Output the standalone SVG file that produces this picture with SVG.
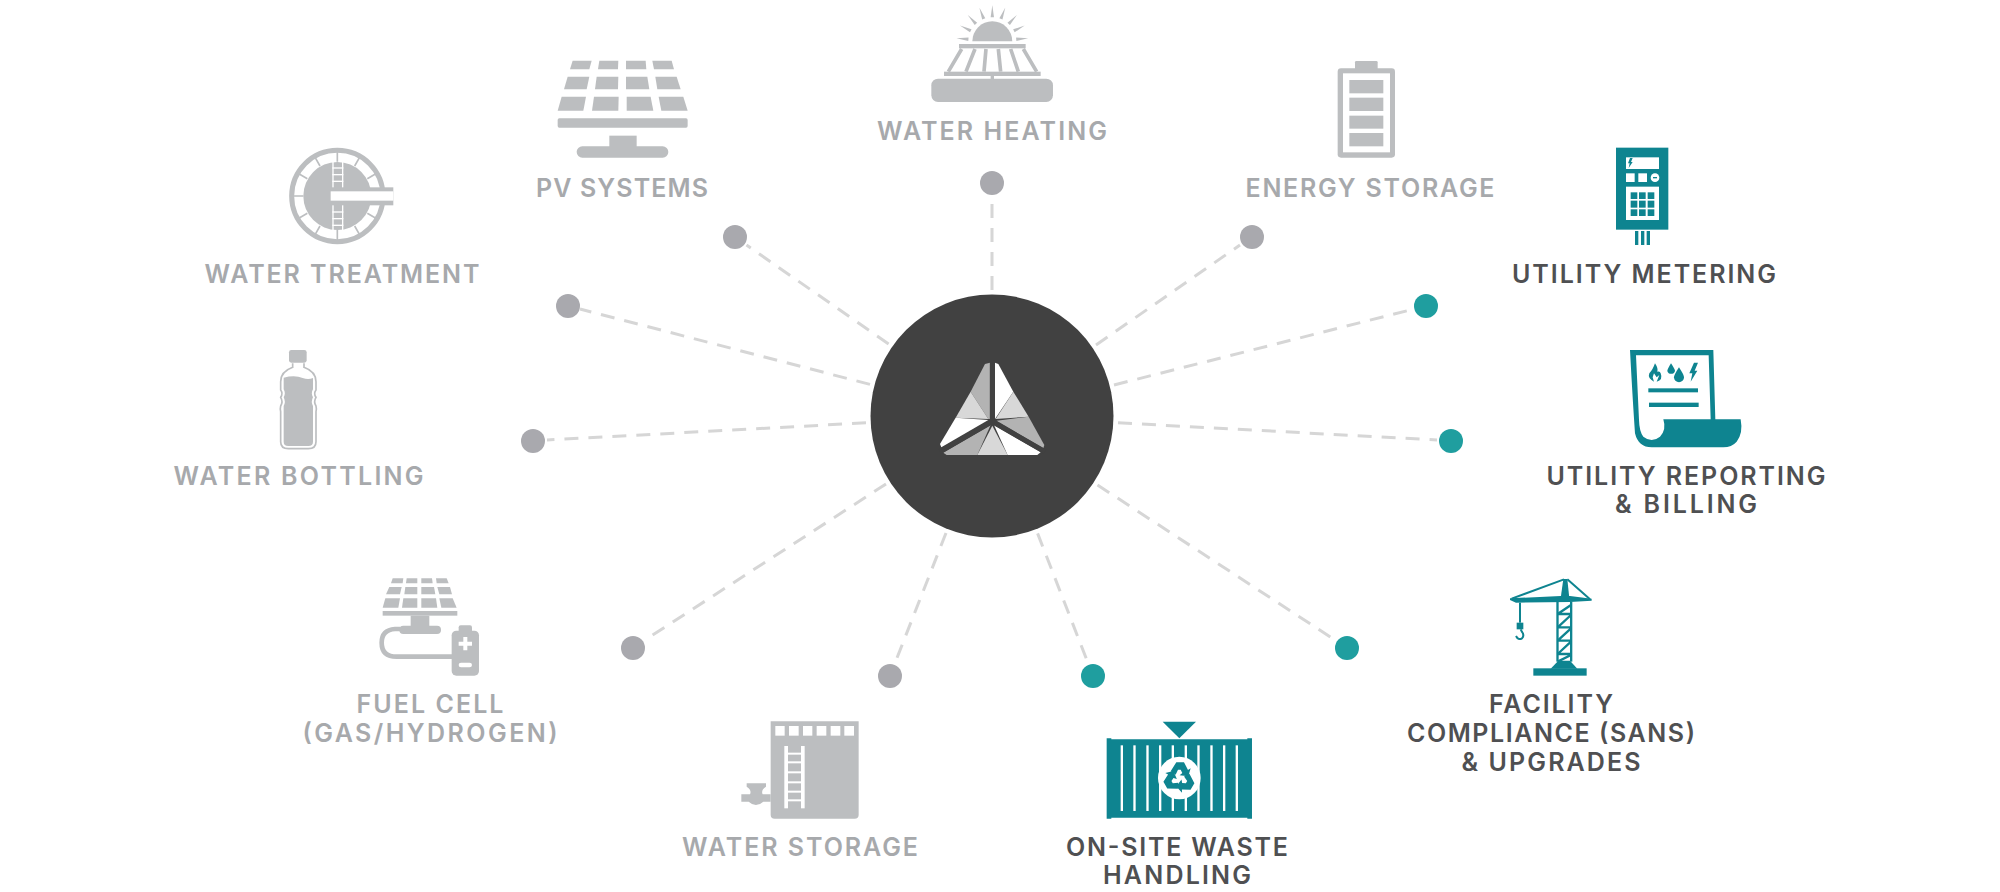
<svg xmlns="http://www.w3.org/2000/svg" width="2000" height="892" viewBox="0 0 2000 892">
<style>
.lb{font-family:"Inter","Liberation Sans",sans-serif;font-weight:600;font-size:25px;text-anchor:middle}
.g{fill:#a7a9ac}.d{fill:#4f5052}
.ig{fill:#bcbec0}.it{fill:#0e8490}
.w{fill:#fff}
.dg{fill:#a9a9ae}.dt{fill:#1f9e9f}
#connectors line{stroke:#d6d6d6;stroke-width:3;stroke-dasharray:14 10;fill:none}
</style>
<defs>
<g id="recarrow"><polygon points="-26,-20 -9,-47 14,-47 26,-24 34,-29 27,-5 1,-8 9,-15 4,-25 -4,-25 -11,-10"/></g>
<polygon id="ray" points="-5,-72 5,-72 0,-108"/>
</defs>
<g id="connectors">
<line x1="992" y1="290" x2="992" y2="197"/>
<line x1="888.600" y1="344" x2="746.500" y2="245"/>
<line x1="870" y1="384.400" x2="580" y2="309"/>
<line x1="866" y1="422.800" x2="547" y2="440"/>
<line x1="886" y1="484" x2="645" y2="640"/>
<line x1="946" y1="533" x2="895" y2="663"/>
<line x1="1037.600" y1="533.400" x2="1088" y2="663"/>
<line x1="1097.500" y1="485" x2="1335" y2="640"/>
<line x1="1118" y1="422.800" x2="1437" y2="440"/>
<line x1="1114" y1="385" x2="1412" y2="309.500"/>
<line x1="1096" y1="345" x2="1240" y2="245"/>
</g>
<g id="hub">
<circle cx="992" cy="416" r="121.500" fill="#414141"/>
<g transform="translate(800,270) scale(.3333)">
<polygon points="570,278 555,282 512,365 565,447 570,447" fill="#b3b3b3"/>
<polygon points="512,365 467,443 565,447" fill="#d8d8d8"/>
<polygon points="467,443 565,450 424,532 420,522" fill="#fff"/>
<polygon points="585,278 595,282 640,365 585,447" fill="#fff"/>
<polygon points="640,365 686,440 587,447" fill="#d8d8d8"/>
<polygon points="686,440 733,525 730,535 590,452" fill="#b3b3b3"/>
<polygon points="430,548 572,465 532,555 440,555" fill="#b3b3b3"/>
<polygon points="577,467 623,555 532,555" fill="#d8d8d8"/>
<polygon points="582,465 722,547 712,555 623,555" fill="#fff"/>
<path d="M577,270V455M577,455L420,545M577,455L735,545" fill="none" stroke="#414141" stroke-width="15"/>
</g>
</g>
<g id="water-heating">
<g class="ig" transform="translate(880,0) scale(.3333)">
<path d="M277,124A60,60 0 0 1 397,124Z"/>
<g transform="translate(337,124)"><use href="#ray" transform="rotate(-85)"/><use href="#ray" transform="rotate(-64)"/><use href="#ray" transform="rotate(-43)"/><use href="#ray" transform="rotate(-21)"/><use href="#ray"/><use href="#ray" transform="rotate(21)"/><use href="#ray" transform="rotate(43)"/><use href="#ray" transform="rotate(64)"/><use href="#ray" transform="rotate(85)"/></g>
<rect x="237" y="132" width="200" height="13"/>
<g stroke="#bcbec0" stroke-width="11" fill="none"><path d="M245,147L205,215M285,147L258,215M318,147L312,215M355,147L362,215M392,147L415,215M430,147L470,215"/></g>
<rect x="192" y="215" width="290" height="13"/>
<rect x="332" y="228" width="10" height="10"/>
<rect x="154" y="236" width="365" height="70" rx="20"/>
</g>
<circle class="dg" cx="992" cy="183" r="12"/>
<text class="lb g" x="992" y="140" textLength="230">WATER HEATING</text>
</g>
<g id="pv-systems">
<g class="ig" transform="translate(530,40) scale(.3333)">
<polygon points="128,62 185,62 178,88 120,88"/><polygon points="208,62 265,62 264,88 204,88"/><polygon points="288,62 347,62 349,88 288,88"/><polygon points="367,62 425,62 432,88 372,88"/>
<polygon points="113,110 178,110 170,148 102,148"/><polygon points="200,110 265,110 264,148 195,148"/><polygon points="288,110 352,110 358,148 288,148"/><polygon points="376,110 440,110 452,148 382,148"/>
<polygon points="95,170 168,170 160,212 83,212"/><polygon points="192,170 266,170 265,212 186,212"/><polygon points="290,170 362,170 370,212 290,212"/><polygon points="386,170 460,170 473,212 394,212"/>
<rect x="83" y="235" width="390" height="28" rx="5"/>
<rect x="238" y="287" width="82" height="35"/>
<rect x="140" y="319" width="275" height="34" rx="17"/>
</g>
<circle class="dg" cx="735" cy="237" r="12"/>
<text class="lb g" x="622" y="197" textLength="172">PV SYSTEMS</text>
</g>
<g id="water-treatment">
<g transform="translate(270,130) scale(.3333)">
<circle cx="202" cy="198" r="137" fill="#fff" stroke="#bcbec0" stroke-width="15"/>
<g stroke="#bcbec0" stroke-width="5"><path d="M202,62V95M134,80L150,108M84,130L112,146M66,198H100M84,266L112,250M134,316L150,288M202,334V300M270,316L254,288M320,266L292,250M270,80L254,108M320,130L292,146"/></g>
<circle class="ig" cx="202" cy="198" r="102"/>
<rect class="ig" x="186" y="172" width="184" height="54"/>
<rect x="182" y="184" width="188" height="28" fill="#fff"/>
<g fill="#fff"><rect x="187" y="96" width="4" height="76"/><rect x="216" y="96" width="4" height="76"/><rect x="187" y="226" width="4" height="76"/><rect x="216" y="226" width="4" height="76"/>
<rect x="187" y="112" width="33" height="4"/><rect x="187" y="132" width="33" height="4"/><rect x="187" y="152" width="33" height="4"/><rect x="187" y="244" width="33" height="4"/><rect x="187" y="264" width="33" height="4"/><rect x="187" y="284" width="33" height="4"/></g>
</g>
<circle class="dg" cx="568" cy="306" r="12"/>
<text class="lb g" x="342" y="283" textLength="275">WATER TREATMENT</text>
</g>
<g id="water-bottling">
<g transform="translate(260,340) scale(.3333)">
<rect class="ig" x="87" y="30" width="53" height="38" rx="7"/>
<path d="M98,70V82Q62,95 62,125V150Q70,160 62,172Q70,185 62,198Q60,205 62,215V305Q62,326 85,326H145Q168,326 168,305V215Q170,205 168,198Q160,185 168,172Q160,160 168,150V125Q168,95 132,82V70" fill="none" stroke="#bcbec0" stroke-width="5"/>
<path class="ig" d="M71,113Q105,104 128,114Q145,120 159,114V148Q152,160 159,172Q152,185 159,198V305Q159,318 145,318H85Q71,318 71,305V198Q78,185 71,172Q78,160 71,148Z"/>
</g>
<circle class="dg" cx="533" cy="441" r="12"/>
<text class="lb g" x="298.500" y="485" textLength="250">WATER BOTTLING</text>
</g>
<g id="fuel-cell">
<g class="ig" transform="translate(360,560) scale(.3333)">
<polygon points="98,55 130,55 128,70 93,70"/><polygon points="140,55 172,55 172,70 138,70"/><polygon points="184,55 216,55 218,70 184,70"/><polygon points="228,55 260,55 266,70 230,70"/>
<polygon points="88,81 125,81 120,103 78,103"/><polygon points="136,81 172,81 172,103 133,103"/><polygon points="184,81 222,81 226,103 184,103"/><polygon points="232,81 270,81 276,103 238,103"/>
<polygon points="76,115 120,115 115,143 68,143"/><polygon points="130,115 172,115 172,143 126,143"/><polygon points="184,115 228,115 232,143 184,143"/><polygon points="238,115 278,115 290,143 244,143"/>
<rect x="68" y="153" width="224" height="14"/>
<rect x="152" y="167" width="56" height="34"/>
<rect x="118" y="197" width="125" height="25" rx="12"/>
<path d="M120,207H105Q65,210 65,248Q65,290 110,290H278" fill="none" stroke="#bcbec0" stroke-width="14"/>
<rect x="296" y="196" width="40" height="22" rx="6"/>
<rect x="275" y="212" width="82" height="135" rx="14"/>
<path class="w" d="M310,231H322V245H336V257H322V271H310V257H296V245H310Z"/>
<rect class="w" x="296" y="308" width="40" height="14" rx="7"/>
</g>
<circle class="dg" cx="633" cy="648" r="12"/>
<text class="lb g" x="430" y="713" textLength="147">FUEL CELL</text>
<text class="lb g" x="430" y="742" textLength="255">(GAS/HYDROGEN)</text>
</g>
<g id="water-storage">
<g transform="translate(720,700) scale(.3333)">
<path class="ig" d="M152,64H416V344Q416,356 404,356H164Q152,356 152,344Z"/>
<g class="w"><rect x="166" y="78" width="28" height="29"/><rect x="207" y="78" width="29" height="29"/><rect x="249" y="78" width="28" height="29"/><rect x="290" y="78" width="29" height="29"/><rect x="332" y="78" width="29" height="29"/><rect x="373" y="78" width="29" height="29"/>
<rect x="193" y="138" width="11" height="187"/><rect x="243" y="138" width="11" height="187"/>
<rect x="204" y="158" width="39" height="6"/><rect x="204" y="184" width="39" height="6"/><rect x="204" y="214" width="39" height="6"/><rect x="204" y="244" width="39" height="6"/><rect x="204" y="272" width="39" height="6"/><rect x="204" y="298" width="39" height="6"/></g>
<path class="ig" d="M152,283H128Q122,270 138,260V250H80V260Q96,270 90,283H64V305H86Q108,325 130,305H152Z"/>
</g>
<circle class="dg" cx="890" cy="676" r="12"/>
<text class="lb g" x="800" y="856" textLength="236">WATER STORAGE</text>
</g>
<g id="waste-handling">
<g transform="translate(1090,710) scale(.3333)">
<polygon class="it" points="218,35 318,35 268,85"/>
<path class="it" d="M50,85H64V88H472V85H486V326H472V323H64V326H50Z"/>
<g class="w"><rect x="92" y="106" width="7" height="197"/><rect x="130" y="106" width="7" height="197"/><rect x="169" y="106" width="7" height="197"/><rect x="207" y="106" width="7" height="197"/><rect x="245" y="106" width="7" height="197"/><rect x="284" y="106" width="7" height="197"/><rect x="322" y="106" width="7" height="197"/><rect x="361" y="106" width="7" height="197"/><rect x="399" y="106" width="7" height="197"/><rect x="437" y="106" width="7" height="197"/>
<circle cx="268" cy="204" r="64"/></g>
<g class="it" transform="translate(268,204)"><use href="#recarrow"/><use href="#recarrow" transform="rotate(120)"/><use href="#recarrow" transform="rotate(240)"/></g>
</g>
<circle class="dt" cx="1093" cy="676" r="12"/>
<text class="lb d" x="1177" y="856" textLength="222">ON-SITE WASTE</text>
<text class="lb d" x="1177" y="884" textLength="148">HANDLING</text>
</g>
<g id="facility">
<g transform="translate(1490,570) scale(.3333)">
<g class="it">
<rect x="130" y="295" width="160" height="22"/>
<polygon points="205,272 240,272 262,296 182,296"/>
<polygon points="60,85 212,78 240,78 305,86 305,92 240,96 78,98 60,90"/>
<polygon points="220,27 232,27 238,85 212,85"/>
<rect x="199" y="95" width="7" height="180"/><rect x="240" y="95" width="7" height="180"/>
<rect x="80" y="158" width="20" height="20"/>
<rect x="87" y="98" width="6" height="60"/>
</g>
<path d="M222,28L65,86M232,28L300,88M92,178L96,186Q104,196 96,205Q85,212 78,198" fill="none" stroke="#0e8490" stroke-width="6"/>
<path d="M203,132H243M203,172H243M203,212H243M203,252H243M203,132L243,105M203,172L243,135M203,212L243,175M203,252L243,215M203,275L243,255" fill="none" stroke="#0e8490" stroke-width="7"/>
</g>
<circle class="dt" cx="1347" cy="648" r="12"/>
<text class="lb d" x="1551" y="713" textLength="124">FACILITY</text>
<text class="lb d" x="1551" y="742" textLength="288">COMPLIANCE (SANS)</text>
<text class="lb d" x="1551" y="771" textLength="179">&amp; UPGRADES</text>
</g>
<g id="utility-reporting">
<g transform="translate(1610,340) scale(.3333)">
<path class="it" d="M60,30H310L316,238H392Q400,280 380,305Q365,322 340,322H125Q85,322 75,280Q68,180 60,30Z"/>
<path class="w" d="M78,46H296L302,238H160Q170,270 150,290Q125,310 100,290Q88,275 87,240Z"/>
<g class="it">
<path d="M135,70Q145,85 142,95Q150,92 152,100Q160,120 140,125L148,105L140,112L132,100L128,112L132,125Q112,115 118,100Q128,90 135,70Z"/>
<path d="M183,70Q195,88 195,93A12,12 0 0 1 172,93Q172,88 183,70Z"/>
<path d="M207,82Q222,105 222,112A15,15 0 0 1 192,112Q192,105 207,82Z"/>
<path d="M252,68H264L254,92H262L242,125L247,100H238Z"/>
<rect x="115" y="145" width="149" height="12"/>
<rect x="117" y="188" width="149" height="13"/>
</g>
</g>
<circle class="dt" cx="1451" cy="441" r="12"/>
<text class="lb d" x="1686" y="485" textLength="279">UTILITY REPORTING</text>
<text class="lb d" x="1686" y="513" textLength="142">&amp; BILLING</text>
</g>
<g id="utility-metering">
<g transform="translate(1600,140) scale(.3333)">
<rect class="it" x="48" y="23" width="157" height="246"/>
<g class="w"><rect x="78" y="52" width="99" height="35"/><rect x="78" y="100" width="26" height="26"/><rect x="115" y="100" width="26" height="26"/><circle cx="165" cy="113" r="13"/><rect x="78" y="140" width="99" height="100"/></g>
<g class="it"><path d="M90,54H98L93,66H98L86,84L89,70H84Z"/><rect x="159" y="111" width="12" height="4"/>
<rect x="92" y="157" width="20" height="20"/><rect x="117" y="157" width="20" height="20"/><rect x="143" y="157" width="20" height="20"/><rect x="92" y="182" width="20" height="21"/><rect x="117" y="182" width="20" height="21"/><rect x="143" y="182" width="20" height="21"/><rect x="92" y="208" width="20" height="20"/><rect x="117" y="208" width="20" height="20"/><rect x="143" y="208" width="20" height="20"/>
<rect x="105" y="273" width="10" height="42"/><rect x="123" y="273" width="10" height="42"/><rect x="140" y="273" width="10" height="42"/></g>
</g>
<circle class="dt" cx="1426" cy="306" r="12"/>
<text class="lb d" x="1644" y="283" textLength="264">UTILITY METERING</text>
</g>
<g id="energy-storage">
<g transform="translate(1320,50) scale(.3333)">
<rect class="ig" x="105" y="33" width="68" height="28" rx="4"/>
<rect class="ig" x="53" y="55" width="172" height="268" rx="10"/>
<rect class="w" x="69" y="70" width="141" height="237"/>
<g class="ig"><rect x="88" y="90" width="102" height="40"/><rect x="88" y="143" width="102" height="40"/><rect x="88" y="197" width="102" height="39"/><rect x="88" y="249" width="102" height="40"/></g>
</g>
<circle class="dg" cx="1252" cy="237" r="12"/>
<text class="lb g" x="1370" y="197" textLength="249">ENERGY STORAGE</text>
</g>
</svg>
